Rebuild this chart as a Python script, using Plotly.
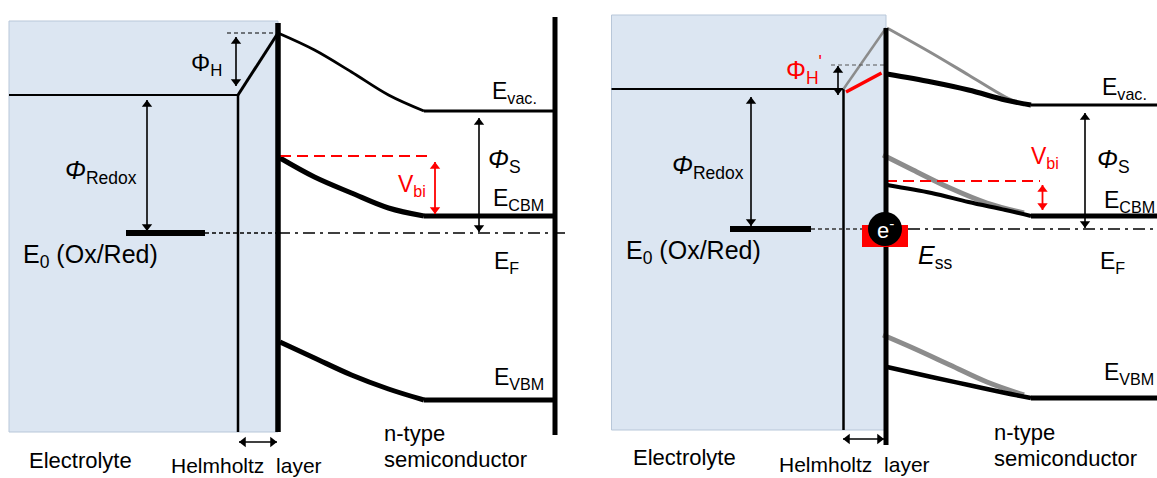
import math
import plotly.graph_objects as go

# ---------------- data (schematic coordinates) ----------------
# Left panel (equilibrium)
L_box = [9, 278, 21, 432]
L_elec_level = 95
L_helm_x, L_surf_x, L_back_x = 238, 278, 555
L_peak_y = 33
L_vac_x = [278, 314.5, 351.5, 388.5, 424]
L_vac_y = [33, 50, 72, 95, 111]
L_cbm_x = [280, 314.5, 351.5, 388.5, 424]
L_cbm_y = [158, 177, 193, 208, 216]
L_vbm_x = [280, 314.5, 351.5, 388.5, 424]
L_vbm_y = [342, 358, 375, 389, 400]
L_flat_end = 555
L_fermi_y = 233
L_e0_x = [126, 205]
L_vbi_dash_y = 156

# Right panel (with surface states)
R_box = [611.5, 886, 15, 430]
R_elec_level = 89
R_helm_x, R_surf_x = 843.5, 886
R_peak_y = 28
R_red_slant_x = [846, 881.5]
R_red_slant_y = [92, 73]
R_phiH_y = 65
R_vac_grey_x = [887, 931.5, 968.5, 1005.5, 1024]
R_vac_grey_y = [28, 53, 75, 97, 105]
R_vac_x = [887, 931.5, 968.5, 1005.5, 1031]
R_vac_y = [74, 82, 90, 100, 105]
R_cbm_grey_x = [883, 913, 950, 987, 1024]
R_cbm_grey_y = [155, 170, 188, 203, 213]
R_cbm_x = [887, 931.5, 968.5, 1005.5, 1031]
R_cbm_y = [185, 193, 202, 210, 216]
R_vbm_grey_x = [883, 913, 950, 987, 1024]
R_vbm_grey_y = [335, 348, 365, 382, 395]
R_vbm_x = [887, 931.5, 968.5, 1005.5, 1031]
R_vbm_y = [367, 377, 385, 393, 398]
R_flat_end = 1157
R_fermi_y = 229
R_e0_x = [730, 811]
R_vbi_dash_y = 181

FONT = "Liberation Sans, Arial, sans-serif"
GREY = "#8c8c8c"
RED = "#ff0000"

fig = go.Figure()


def line(xs, ys, color="black", width=2, dash=None, shape="linear"):
    fig.add_trace(go.Scatter(
        x=xs, y=ys, mode="lines",
        line=dict(color=color, width=width, dash=dash, shape=shape, smoothing=1.0),
        hoverinfo="skip", showlegend=False))


def arrow(x0, y0, x1, y1, color="black", width=1.6, size=9):
    """double headed arrow drawn as a line with triangle markers at both ends"""
    line([x0, x1], [y0, y1], color=color, width=width)
    dx, dy = x1 - x0, y1 - y0
    n = math.hypot(dx, dy)
    ux, uy = dx / n, dy / n
    r = size / 2
    ang_end = math.degrees(math.atan2(ux, -uy))
    ang_start = ang_end + 180
    fig.add_trace(go.Scatter(
        x=[x1 - ux * r, x0 + ux * r], y=[y1 - uy * r, y0 + uy * r], mode="markers",
        marker=dict(symbol="triangle-up", size=size, color=color,
                    angle=[ang_end, ang_start], line=dict(width=0)),
        hoverinfo="skip", showlegend=False))


def text(x, y, s, size=22, color="black", anchor="left"):
    fig.add_annotation(x=x, y=y, xref="x", yref="y", text=s, showarrow=False,
                       xanchor=anchor, yanchor="middle",
                       font=dict(family=FONT, size=size, color=color))


# background boxes
for b in (L_box, R_box):
    fig.add_shape(type="rect", x0=b[0], x1=b[1], y0=b[2], y1=b[3],
                  fillcolor="#dce6f2", line=dict(color="#b8c7d9", width=1), layer="below")

# ---------------- left panel ----------------
line([L_box[0], L_helm_x], [L_elec_level, L_elec_level], width=2)
line([L_helm_x, L_helm_x], [L_elec_level, L_box[3]], width=2.5)
line([L_helm_x, L_surf_x], [L_elec_level, L_peak_y], width=3)
line([227, L_surf_x], [L_peak_y, L_peak_y], width=1, dash="4px,3px")
line(L_vac_x, L_vac_y, width=2.8, shape="spline")
line([L_vac_x[-1], L_flat_end], [L_vac_y[-1], L_vac_y[-1]], width=3.2)
line(L_cbm_x, L_cbm_y, width=5, shape="spline")
line([L_cbm_x[-1], L_flat_end], [L_cbm_y[-1], L_cbm_y[-1]], width=5)
line(L_vbm_x, L_vbm_y, width=5, shape="spline")
line([L_vbm_x[-1], L_flat_end], [L_vbm_y[-1], L_vbm_y[-1]], width=5)
line([L_e0_x[1], L_surf_x], [L_fermi_y, L_fermi_y], width=1.3, dash="4px,3px")
line([L_surf_x, 568], [L_fermi_y, L_fermi_y], width=1.5, dash="12px,5px,3px,5px")
line(L_e0_x, [L_fermi_y, L_fermi_y], width=6)
line([280, 433], [L_vbi_dash_y, L_vbi_dash_y], color=RED, width=2, dash="11px,6px")
line([L_surf_x, L_surf_x], [23, 432], width=5.5)
line([L_back_x, L_back_x], [17, 435], width=5)

arrow(236, 86, 236, 37)
arrow(147, 231, 147, 100)
arrow(435, 214, 435, 162, color=RED, width=1.8)
arrow(479, 232, 479, 118)
arrow(239, 442, 277, 442, width=1.4)

text(189, 64, "Φ<sub>H</sub>", size=24)
text(63, 172, "<i>Φ</i><sub>Redox</sub>", size=25)
text(21, 256, "E<sub>0</sub> (Ox/Red)", size=25)
text(412, 185, "V<sub>bi</sub>", size=23, color=RED, anchor="center")
text(486, 161, "<i>Φ</i><sub>S</sub>", size=25)
text(490, 92, "E<sub>vac.</sub>", size=23)
text(491, 199, "E<sub>CBM</sub>", size=23)
text(492, 262, "E<sub>F</sub>", size=23)
text(492, 378, "E<sub>VBM</sub>", size=23)
text(80, 460, "Electrolyte", size=22, anchor="center")
text(246, 465, "Helmholtz  layer", size=21, anchor="center")
text(382, 433, "n-type", size=22)
text(382, 459, "semiconductor", size=22)

# ---------------- right panel ----------------
line([R_box[0], R_helm_x], [R_elec_level, R_elec_level], width=2)
line([R_helm_x, R_helm_x], [R_elec_level, R_box[3]], width=2.5)
line([R_helm_x, R_surf_x], [R_elec_level, R_peak_y], color=GREY, width=2.5)
line(R_red_slant_x, R_red_slant_y, color=RED, width=3.5)
line([831, R_surf_x], [R_phiH_y, R_phiH_y], color="#555555", width=1, dash="4px,3px")
line(R_vac_grey_x, R_vac_grey_y, color=GREY, width=3, shape="spline")
line(R_cbm_grey_x, R_cbm_grey_y, color=GREY, width=5, shape="spline")
line(R_vbm_grey_x, R_vbm_grey_y, color=GREY, width=5, shape="spline")
line(R_vac_x, R_vac_y, width=5, shape="spline")
line([R_vac_x[-1], R_flat_end], [R_vac_y[-1], R_vac_y[-1]], width=3.2)
line(R_cbm_x, R_cbm_y, width=4, shape="spline")
line([R_cbm_x[-1], R_flat_end], [R_cbm_y[-1], R_cbm_y[-1]], width=5)
line(R_vbm_x, R_vbm_y, width=4.5, shape="spline")
line([R_vbm_x[-1], R_flat_end], [R_vbm_y[-1], R_vbm_y[-1]], width=5)
line([R_e0_x[1], 862], [R_fermi_y, R_fermi_y], width=1.3, dash="4px,3px", color="#333333")
line([908, 1157], [R_fermi_y, R_fermi_y], width=1.5, dash="12px,5px,3px,5px")
line(R_e0_x, [R_fermi_y, R_fermi_y], width=6)
line([886, 1040], [R_vbi_dash_y, R_vbi_dash_y], color=RED, width=2, dash="11px,6px")
line([R_surf_x, R_surf_x], [28, 445], width=5)

arrow(838, 95, 838, 66)
arrow(751, 226, 751, 97)
arrow(1042.5, 210, 1042.5, 185, color=RED, width=1.8)
arrow(1085, 228, 1085, 113)
arrow(843, 439, 884, 439, width=1.4)

# surface state + electron
fig.add_shape(type="rect", x0=862, x1=908, y0=225, y1=247, fillcolor=RED,
              line=dict(width=0), layer="above")
fig.add_shape(type="circle", x0=868, x1=902, y0=212, y1=246, fillcolor="black",
              line=dict(width=0), layer="above")
text(885, 229, "e<sup>-</sup>", size=22, color="white", anchor="center")

text(784, 70, "Φ<sub>H</sub><sup>'</sup>", size=25, color=RED)
text(670, 167, "<i>Φ</i><sub>Redox</sub>", size=25)
text(624, 252, "E<sub>0</sub> (Ox/Red)", size=25)
text(1029, 157, "V<sub>bi</sub>", size=23, color=RED)
text(1095, 161, "<i>Φ</i><sub>S</sub>", size=25)
text(1100, 88, "E<sub>vac.</sub>", size=23)
text(1102, 201, "E<sub>CBM</sub>", size=23)
text(1098, 262, "E<sub>F</sub>", size=23)
text(1102, 373, "E<sub>VBM</sub>", size=23)
text(916, 257, "<i>E</i><sub>ss</sub>", size=25)
text(684, 457, "Electrolyte", size=22, anchor="center")
text(854, 464, "Helmholtz  layer", size=21, anchor="center")
text(992, 432, "n-type", size=22)
text(992, 458, "semiconductor", size=22)

fig.update_layout(
    width=1157, height=478,
    margin=dict(l=0, r=0, t=0, b=0),
    paper_bgcolor="white", plot_bgcolor="white",
    xaxis=dict(range=[0, 1157], visible=False, fixedrange=True),
    yaxis=dict(range=[478, 0], visible=False, fixedrange=True),
)

fig.write_html("out.html")
